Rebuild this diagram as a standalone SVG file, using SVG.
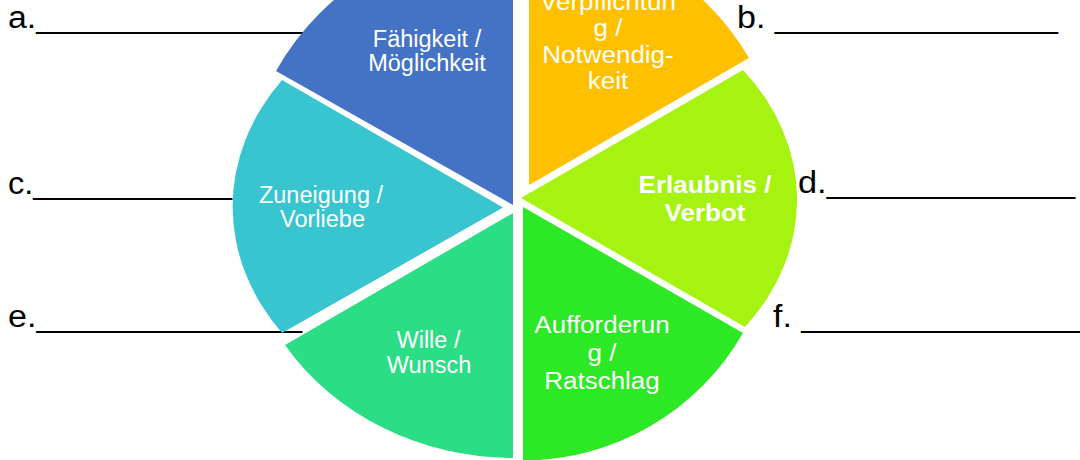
<svg xmlns="http://www.w3.org/2000/svg" width="1080" height="460" viewBox="0 0 1080 460">
<style>
.ans{font-family:"Liberation Sans",Arial,sans-serif;font-size:31px;fill:#000}
.lbl{font-family:"Liberation Sans",Arial,sans-serif;font-size:23px;fill:#fff;text-anchor:middle}
.lblL{font-size:23.5px}
.bold{font-weight:bold}
</style>
<rect width="1080" height="460" fill="#fff"/>
<g id="answer-lines">
<text class="ans" x="8" y="28" textLength="329" lengthAdjust="spacingAndGlyphs">a.________________</text>
<text class="ans" x="737" y="28" textLength="321" lengthAdjust="spacingAndGlyphs">b. _______________</text>
<text class="ans" x="8" y="194" textLength="224" lengthAdjust="spacingAndGlyphs">c.___________</text>
<text class="ans" x="798" y="193" textLength="277" lengthAdjust="spacingAndGlyphs">d._____________</text>
<text class="ans" x="8" y="327" textLength="294" lengthAdjust="spacingAndGlyphs">e.______________</text>
<text class="ans" x="773" y="327" textLength="311" lengthAdjust="spacingAndGlyphs">f. _______________</text>
</g>
<g id="wedge-faehigkeit">
<path d="M513,205 L276,71 A272,272 0 0 1 513,-67 Z" fill="#4472C4"/>
<text class="lbl lblL" x="427" y="47">Fähigkeit /</text>
<text class="lbl lblL" x="427" y="70.5">Möglichkeit</text>
</g>
<g id="wedge-verpflichtung">
<path d="M529,185 L529,-69 A254,254 0 0 1 749,58 Z" fill="#FFC000"/>
<g transform="translate(608,0) scale(1.13,1)">
<text class="lbl" x="0" y="9.5">Verpflichtun</text>
<text class="lbl" x="0" y="36.2">g /</text>
<text class="lbl" x="0" y="62.7">Notwendig-</text>
<text class="lbl" x="0" y="89.2">keit</text>
</g>
</g>
<g id="wedge-erlaubnis">
<path d="M521,198 L743,70 A276,218 0 0 1 745,327 Z" fill="#A6F210"/>
<g transform="translate(705,0) scale(1.13,1)">
<text class="lbl bold" x="0" y="193">Erlaubnis /</text>
<text class="lbl bold" x="0" y="220.7">Verbot</text>
</g>
</g>
<g id="wedge-aufforderung">
<path d="M523,207 L743,333 A253.5,253.5 0 0 1 523,460.5 Z" fill="#2DE824"/>
<g transform="translate(602,0) scale(1.13,1)">
<text class="lbl" x="0" y="333">Aufforderun</text>
<text class="lbl" x="0" y="361">g /</text>
<text class="lbl" x="0" y="389.3">Ratschlag</text>
</g>
</g>
<g id="wedge-wille">
<path d="M513,213 L513,458 A271,245 0 0 1 285,345 Z" fill="#2BDD85"/>
<text class="lbl lblL" x="428.5" y="347.5">Wille /</text>
<text class="lbl lblL" x="429" y="372.5">Wunsch</text>
</g>
<g id="wedge-zuneigung">
<path d="M503,207.5 L282,333 A271.5,220 0 0 1 282,80 Z" fill="#38C5CF"/>
<text class="lbl lblL" x="321" y="203">Zuneigung /</text>
<text class="lbl lblL" x="322.5" y="226.7">Vorliebe</text>
</g>
</svg>
